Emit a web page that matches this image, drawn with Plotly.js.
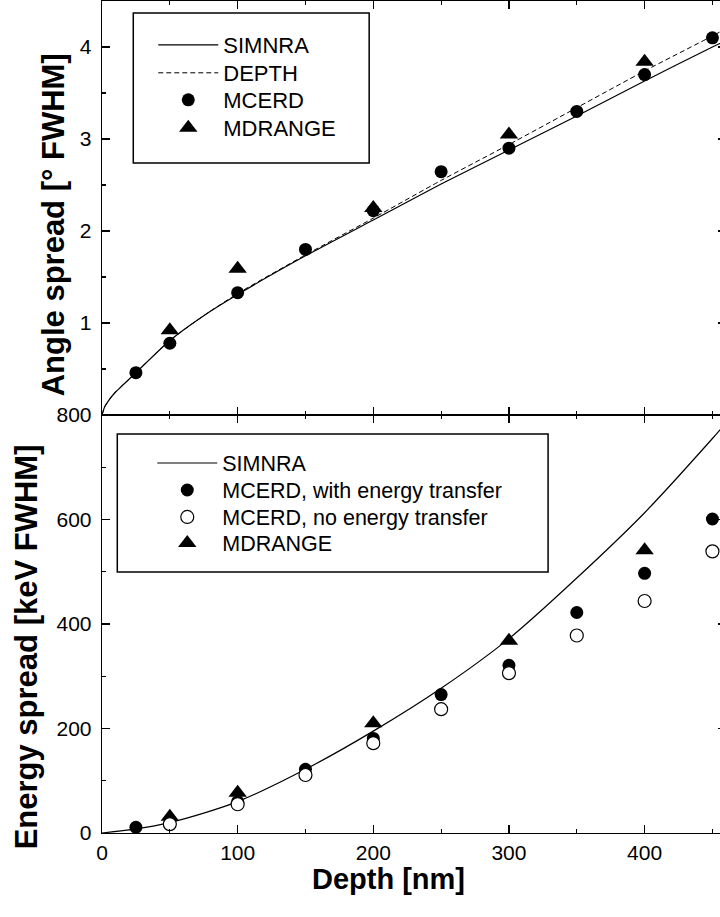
<!DOCTYPE html>
<html><head><meta charset="utf-8">
<script src="https://cdn.plot.ly/plotly-3.0.1.min.js"></script>
<style>html,body{margin:0;padding:0;overflow:hidden;background:#fff}#chart{width:726px;height:917px}</style>
</head><body><div id="chart"></div><script>
// ---- data ----
var lineDepth = [0, 2, 5, 10, 15, 25, 50, 75, 100, 150, 200, 250, 300, 350, 400, 450, 460];
var angleSimnra = [0, 0.09, 0.16, 0.25, 0.32, 0.46, 0.81, 1.08, 1.31, 1.73, 2.12, 2.51, 2.88, 3.25, 3.63, 4.00, 4.07];
var angleDepth = [0, 0.09, 0.16, 0.25, 0.32, 0.46, 0.81, 1.08, 1.32, 1.74, 2.14, 2.55, 2.94, 3.34, 3.74, 4.12, 4.20];

var pointDepth = [25, 50, 100, 150, 200, 250, 300, 350, 400, 450];
var angleMcerd = [0.46, 0.78, 1.33, 1.80, 2.22, 2.645, 2.90, 3.30, 3.70, 4.10];
var mdrangeDepth = [50, 100, 200, 300, 400];
var angleMdrange = [0.92, 1.59, 2.25, 3.05, 3.84];

var energyLineDepth = [0, 25, 50, 75, 100, 150, 200, 250, 300, 350, 400, 450, 460];
var energySimnra = [0, 8, 20, 38, 60, 122, 195, 277, 372, 488, 613, 755, 785];
var energyMcerdTransfer = [11, 18, 60, 122, 181, 265, 321, 422, 497, 601];
var noTransferDepth = [50, 100, 150, 200, 250, 300, 350, 400, 450];
var energyMcerdNoTransfer = [17, 55, 111, 172, 237, 306, 378, 444, 539];
var energyMdrange = [31, 77, 210, 368, 541];

var xTicks = [0, 100, 200, 300, 400];
var angleTicks = [1, 2, 3, 4];
var energyTicks = [0, 200, 400, 600, 800];

// ---- layout helpers ----
var FONT = 'Liberation Sans, Arial, sans-serif';
var W = 726, H = 917, ML = 101.7, MT = 1, MB = 84, MR = 0;
var PW = W - ML - MR, PH = H - MT - MB;
function px2x(p) { return (p - ML) / PW; }
function px2y(p) { return (H - MB - p) / PH; }
var split = px2y(415);

var black = '#000';
var traces = [
  {x: lineDepth, y: angleSimnra, xaxis: 'x2', yaxis: 'y', mode: 'lines', name: 'SIMNRA',
   line: {color: black, width: 1.2, shape: 'spline', smoothing: 0.6}, legend: 'legend'},
  {x: lineDepth, y: angleDepth, xaxis: 'x2', yaxis: 'y', mode: 'lines', name: 'DEPTH',
   line: {color: black, width: 1, dash: '5px,3px', shape: 'spline', smoothing: 0.6}, legend: 'legend2'},
  {x: pointDepth, y: angleMcerd, xaxis: 'x2', yaxis: 'y', mode: 'markers', name: 'MCERD',
   marker: {symbol: 'circle', size: 13, color: black}, legend: 'legend3'},
  {x: mdrangeDepth, y: angleMdrange, xaxis: 'x2', yaxis: 'y', mode: 'markers', name: 'MDRANGE',
   marker: {symbol: 'triangle-up', size: 16, color: black}, legend: 'legend4'},

  {x: energyLineDepth, y: energySimnra, xaxis: 'x', yaxis: 'y2', mode: 'lines', name: 'SIMNRA',
   line: {color: black, width: 1.2, shape: 'spline', smoothing: 0.8}, legend: 'legend5'},
  {x: pointDepth, y: energyMcerdTransfer, xaxis: 'x', yaxis: 'y2', mode: 'markers', name: 'MCERD, with energy transfer',
   marker: {symbol: 'circle', size: 13, color: black}, legend: 'legend6'},
  {x: mdrangeDepth, y: energyMdrange, xaxis: 'x', yaxis: 'y2', mode: 'markers', name: 'MDRANGE',
   marker: {symbol: 'triangle-up', size: 16, color: black}, legend: 'legend8'},
  {x: noTransferDepth, y: energyMcerdNoTransfer, xaxis: 'x', yaxis: 'y2', mode: 'markers', name: 'MCERD, no energy transfer',
   marker: {symbol: 'circle', size: 13, color: '#fff', line: {color: black, width: 1.2}}, legend: 'legend7'}
];

var axisCommon = {
  showgrid: false, zeroline: false, showline: true, linecolor: black, linewidth: 1.3,
  mirror: 'ticks', ticks: 'inside', ticklen: 8, tickwidth: 1.2, tickcolor: black,
  tickfont: {family: FONT, size: 21, color: black}
};
function ax(extra) { return Object.assign({}, axisCommon, extra); }
function minor(d) { return {dtick: d, tick0: 0, ticks: 'inside', ticklen: 4, tickwidth: 1.2, tickcolor: black}; }

function legendAt(xpx, ypx, size) {
  return {bgcolor: 'rgba(0,0,0,0)', borderwidth: 0, font: {family: FONT, size: size, color: black},
    xanchor: 'left', yanchor: 'middle', itemwidth: 60, x: px2x(xpx), y: px2y(ypx)};
}

var layout = {
  width: W, height: H,
  margin: {l: ML, r: MR, t: MT, b: MB},
  paper_bgcolor: '#fff', plot_bgcolor: '#fff',
  font: {family: FONT, color: black},
  showlegend: true,
  xaxis: ax({anchor: 'y2', range: [0, 460], tickvals: xTicks, ticktext: xTicks.map(String), minor: minor(50)}),
  xaxis2: ax({anchor: 'y', matches: 'x', range: [0, 460], tickvals: xTicks, showticklabels: false, minor: minor(50)}),
  yaxis: ax({domain: [split, 1], range: [0, 4.5], tickvals: angleTicks, ticktext: angleTicks.map(String),
    ticklabelstandoff: 5, minor: minor(0.5)}),
  yaxis2: ax({domain: [0, split], range: [0, 800], tickvals: energyTicks, ticktext: energyTicks.map(String),
    ticklabelstandoff: 5, minor: minor(100)}),
  legend: legendAt(153, 45, 22),
  legend2: legendAt(153, 73, 22),
  legend3: legendAt(153, 100, 22),
  legend4: legendAt(153, 128, 22),
  legend5: legendAt(152, 463, 21.5),
  legend6: legendAt(152, 490, 21.5),
  legend7: legendAt(152, 517, 21.5),
  legend8: legendAt(152, 543, 21.5),
  shapes: [
    {type: 'rect', xref: 'paper', yref: 'paper', x0: px2x(133), x1: px2x(369), y0: px2y(163), y1: px2y(13),
     line: {color: black, width: 1.5}, fillcolor: 'rgba(0,0,0,0)'},
    {type: 'rect', xref: 'paper', yref: 'paper', x0: px2x(117), x1: px2x(548), y0: px2y(572), y1: px2y(434),
     line: {color: black, width: 1.5}, fillcolor: 'rgba(0,0,0,0)'}
  ],
  annotations: [
    {text: '<b>Angle spread [° FWHM]</b>', xref: 'paper', yref: 'paper', x: px2x(53), y: px2y(225),
     textangle: -90, showarrow: false, xanchor: 'center', yanchor: 'middle', font: {family: FONT, size: 31, color: black}},
    {text: '<b>Energy spread [keV FWHM]</b>', xref: 'paper', yref: 'paper', x: px2x(26), y: px2y(647),
     textangle: -90, showarrow: false, xanchor: 'center', yanchor: 'middle', font: {family: FONT, size: 31, color: black}},
    {text: '<b>Depth [nm]</b>', xref: 'paper', yref: 'paper', x: px2x(388), y: px2y(879),
     showarrow: false, xanchor: 'center', yanchor: 'middle', font: {family: FONT, size: 29, color: black}}
  ]
};

Plotly.newPlot('chart', traces, layout, {displayModeBar: false, staticPlot: true});
</script></body></html>
